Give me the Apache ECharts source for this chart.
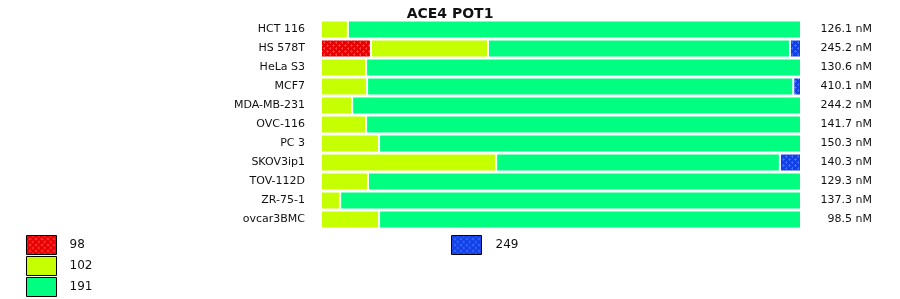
<!DOCTYPE html>
<html>
<head>
<meta charset="utf-8">
<script src="https://cdn.jsdelivr.net/npm/echarts@6/dist/echarts.min.js"></script>
<style>html,body{margin:0;padding:0;background:#fff;}#c{width:900px;height:299px;}</style>
</head>
<body>
<div id="c"></div>
<script>
const cellLines = ['HCT 116','HS 578T','HeLa S3','MCF7','MDA-MB-231','OVC-116','PC 3','SKOV3ip1','TOV-112D','ZR-75-1','ovcar3BMC'];
const concentrations = ['126.1 nM','245.2 nM','130.6 nM','410.1 nM','244.2 nM','141.7 nM','150.3 nM','140.3 nM','129.3 nM','137.3 nM','98.5 nM'];
const seriesNames = ['98','102','191','249'];
const s98  = [0, 10.4, 0, 0, 0, 0, 0, 0, 0, 0, 0];
const s102 = [5.6, 24.4, 9.4, 9.6, 6.5, 9.4, 12.1, 36.5, 9.8, 4.0, 12.1];
const s191 = [94.4, 62.9, 90.6, 88.8, 93.5, 90.6, 87.9, 59.1, 90.2, 96.0, 87.9];
const s249 = [0, 2.3, 0, 1.6, 0, 0, 0, 4.4, 0, 0, 0];

function pattern(base, dot) {
  const c = document.createElement('canvas');
  c.width = 6; c.height = 6;
  const g = c.getContext('2d');
  g.fillStyle = base; g.fillRect(0, 0, 6, 6);
  g.fillStyle = dot;
  g.fillRect(2, 3, 3, 1); g.fillRect(3, 2, 1, 3);
  g.fillRect(5, 0, 1, 1); g.fillRect(0, 0, 1, 1);
  g.fillRect(0, 5, 1, 1); g.fillRect(0, 1, 1, 1);
  return {image: c, repeat: 'repeat'};
}
const redPat = pattern('#e60000', '#ff3a3a');
const bluePat = pattern('#1040e6', '#3a6aff');
const colors = [redPat, '#c6ff00', '#00ff80', bluePat];
const values = [s98, s102, s191, s249];

const chart = echarts.init(document.getElementById('c'), null, {renderer: 'canvas'});
const font = 'DejaVu Sans';
chart.setOption({
  animation: false,
  title: {text: 'ACE4 POT1', left: 'center', top: 2, textStyle: {fontFamily: font, fontSize: 14, fontWeight: 'bold', color: '#111'}},
  grid: {left: 321, right: 99, top: 20, bottom: 70, containLabel: false},
  xAxis: {type: 'value', min: 0, max: 100, show: false},
  yAxis: [
    {type: 'category', data: cellLines, inverse: true, axisLine: {show: false}, axisTick: {show: false},
     axisLabel: {fontFamily: font, fontSize: 11, color: '#111', margin: 16}},
    {type: 'category', data: concentrations, inverse: true, position: 'right', axisLine: {show: false}, axisTick: {show: false},
     axisLabel: {fontFamily: font, fontSize: 11, color: '#111', margin: 71, align: 'right'}}
  ],
  legend: [
    {data: ['98','102','191'], orient: 'vertical', left: 26, top: 235, padding: 0, itemWidth: 30, itemHeight: 19, itemGap: 1, icon: 'rect',
     itemStyle: {borderColor: '#000', borderWidth: 1},
     textStyle: {fontFamily: font, fontSize: 12, color: '#111', padding: [0, 0, 0, 8]}},
    {data: ['249'], orient: 'vertical', left: 451, top: 235, padding: 0, itemWidth: 30, itemHeight: 19, icon: 'rect',
     itemStyle: {borderColor: '#000', borderWidth: 1},
     textStyle: {fontFamily: font, fontSize: 12, color: '#111', padding: [0, 0, 0, 9]}}
  ],
  series: seriesNames.map((n, i) => ({
    name: n, type: 'bar', stack: 'all', barWidth: 18,
    data: values[i].map(v => v === 0 ? null : v),
    itemStyle: {color: colors[i], borderColor: '#fff', borderWidth: 1}
  }))
});
</script>
</body>
</html>
